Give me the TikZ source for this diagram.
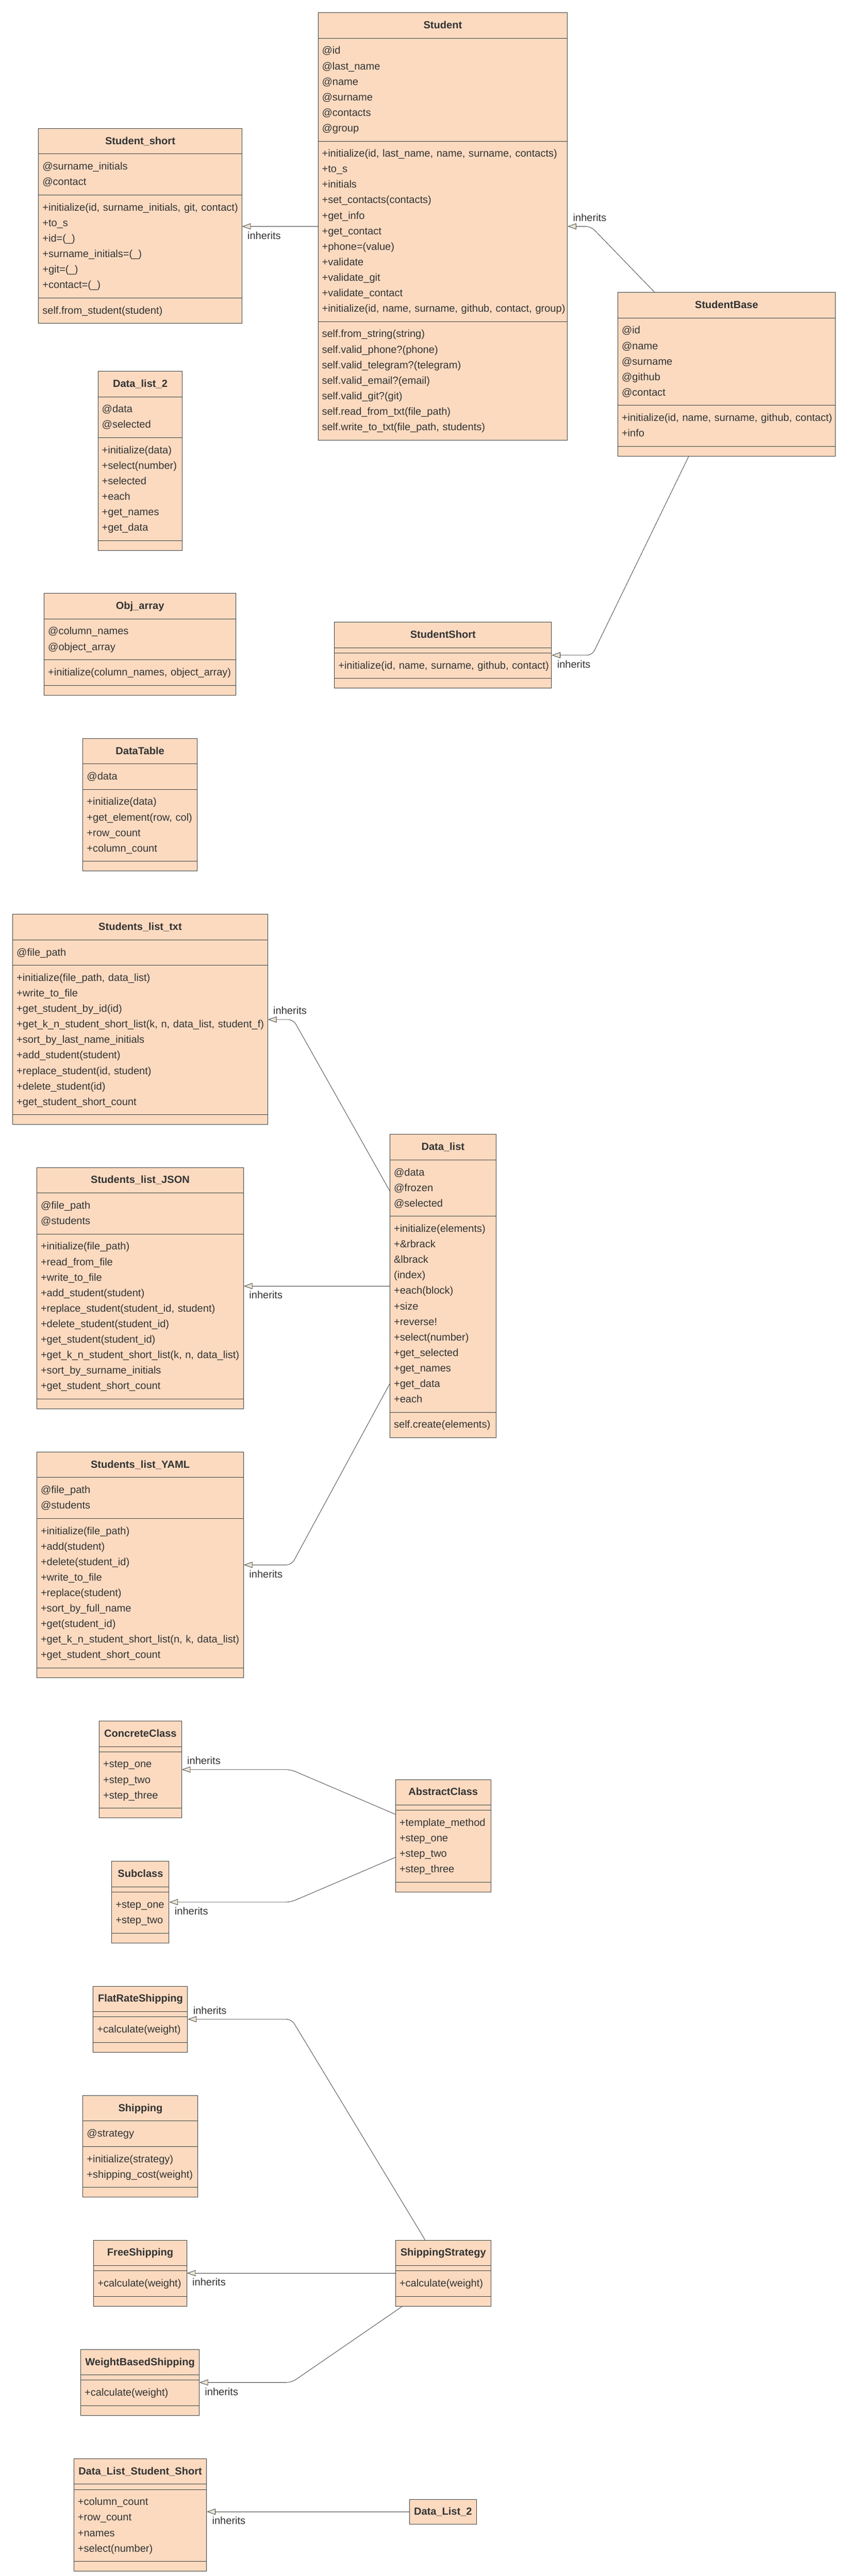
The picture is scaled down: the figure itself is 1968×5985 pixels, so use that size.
\documentclass[tikz,border=0pt]{standalone}
\usepackage{fontspec}
\setmainfont{Liberation Sans}
\usepackage{tikz}
\usetikzlibrary{arrows.meta,shapes.multipart}

\definecolor{boxc}{HTML}{FCDAC0}
\definecolor{linec}{HTML}{3C3C3C}
\definecolor{textc}{HTML}{333333}
\definecolor{tipc}{HTML}{EAE4D2}

%one compartment, rows 18pt apart, no wrapping
\newcommand{\rows}[1]{\begin{tabular}[t]{@{}l@{}}\rule{0pt}{15.35pt}#1\rule[-8.15pt]{0pt}{0pt}\end{tabular}}
\newcommand{\cname}[1]{\hfill\rows{\textbf{#1}}\hfill\null}

\begin{document}
\begin{tikzpicture}[
x=0.5pt,y=-0.5pt,
cls/.style={rectangle split, rectangle split parts=4, draw=linec, fill=boxc, line width=0.6pt, anchor=north west, inner xsep=4.5pt, inner ysep=2.75pt, text=textc, font=\fontsize{12}{18}\selectfont, rectangle split empty part height=0pt, rectangle split empty part depth=0pt},
clsone/.style={rectangle, draw=linec, fill=boxc, line width=0.6pt, anchor=north west, inner sep=0pt, text=textc, font=\fontsize{12}{18}\selectfont\bfseries},
inh/.style={draw=linec, line width=0.5pt, -{Triangle[length=10pt,width=7pt,fill=tipc]}, rounded corners=6pt},
lup/.style={at end, anchor=base west, shift={(12,-12)}, inner sep=0pt, text=textc, font=\fontsize{12}{14}\selectfont},
ldown/.style={at end, anchor=base west, shift={(12,29.5)}, inner sep=0pt, text=textc, font=\fontsize{12}{14}\selectfont},
]
\path[use as bounding box, fill=white] (0,0) rectangle (1968,5985);

%students
\node(student)[cls, text width=280.5pt] at (738,29){\cname{Student}
\nodepart{two}\rows{@id\\@last\_name\\@name\\@surname\\@contacts\\@group}
\nodepart{three}\rows{+initialize(id, last\_name, name, surname, contacts)\\+to\_s\\+initials\\+set\_contacts(contacts)\\+get\_info\\+get\_contact\\+phone=(value)\\+validate\\+validate\_git\\+validate\_contact\\+initialize(id, name, surname, github, contact, group)}
\nodepart{four}\rows{self.from\_string(string)\\self.valid\_phone?(phone)\\self.valid\_telegram?(telegram)\\self.valid\_email?(email)\\self.valid\_git?(git)\\self.read\_from\_txt(file\_path)\\self.write\_to\_txt(file\_path, students)}};
\node(sshort)[cls, text width=227pt] at (89,298){\cname{Student\_short}
\nodepart{two}\rows{@surname\_initials\\@contact}
\nodepart{three}\rows{+initialize(id, surname\_initials, git, contact)\\+to\_s\\+id=(\_)\\+surname\_initials=(\_)\\+git=(\_)\\+contact=(\_)}
\nodepart{four}\rows{self.from\_student(student)}};
\node(sbase)[cls, text width=243.5pt] at (1434,679){\cname{StudentBase}
\nodepart{two}\rows{@id\\@name\\@surname\\@github\\@contact}
\nodepart{three}\rows{+initialize(id, name, surname, github, contact)\\+info}};
\node(sshort2)[cls, text width=243pt] at (776,1445){\cname{StudentShort}
\nodepart{two}
\nodepart{three}\rows{+initialize(id, name, surname, github, contact)}};

%tables
\node(dlist2)[cls, text width=89pt] at (227,862){\cname{Data\_list\_2}
\nodepart{two}\rows{@data\\@selected}
\nodepart{three}\rows{+initialize(data)\\+select(number)\\+selected\\+each\\+get\_names\\+get\_data}};
\node(objarr)[cls, text width=213.5pt] at (102,1378){\cname{Obj\_array}
\nodepart{two}\rows{@column\_names\\@object\_array}
\nodepart{three}\rows{+initialize(column\_names, object\_array)}};
\node(dtable)[cls, text width=123.5pt] at (192,1715){\cname{DataTable}
\nodepart{two}\rows{@data}
\nodepart{three}\rows{+initialize(data)\\+get\_element(row, col)\\+row\_count\\+column\_count}};

%students lists
\node(txt)[cls, text width=287pt] at (29,2124){\cname{Students\_list\_txt}
\nodepart{two}\rows{@file\_path}
\nodepart{three}\rows{+initialize(file\_path, data\_list)\\+write\_to\_file\\+get\_student\_by\_id(id)\\+get\_k\_n\_student\_short\_list(k, n, data\_list, student\_f)\\+sort\_by\_last\_name\_initials\\+add\_student(student)\\+replace\_student(id, student)\\+delete\_student(id)\\+get\_student\_short\_count}};
\node(dlist)[cls, text width=114pt] at (905,2635){\cname{Data\_list}
\nodepart{two}\rows{@data\\@frozen\\@selected}
\nodepart{three}\rows{+initialize(elements)\\+\&rbrack\\\&lbrack\\(index)\\+each(block)\\+size\\+reverse!\\+select(number)\\+get\_selected\\+get\_names\\+get\_data\\+each}
\nodepart{four}\rows{self.create(elements)}};
\node(json)[cls, text width=231pt] at (85,2712){\cname{Students\_list\_JSON}
\nodepart{two}\rows{@file\_path\\@students}
\nodepart{three}\rows{+initialize(file\_path)\\+read\_from\_file\\+write\_to\_file\\+add\_student(student)\\+replace\_student(student\_id, student)\\+delete\_student(student\_id)\\+get\_student(student\_id)\\+get\_k\_n\_student\_short\_list(k, n, data\_list)\\+sort\_by\_surname\_initials\\+get\_student\_short\_count}};
\node(yaml)[cls, text width=231pt] at (85,3373){\cname{Students\_list\_YAML}
\nodepart{two}\rows{@file\_path\\@students}
\nodepart{three}\rows{+initialize(file\_path)\\+add(student)\\+delete(student\_id)\\+write\_to\_file\\+replace(student)\\+sort\_by\_full\_name\\+get(student\_id)\\+get\_k\_n\_student\_short\_list(n, k, data\_list)\\+get\_student\_short\_count}};

%template method
\node(concrete)[cls, text width=86.5pt] at (230,3998){\cname{ConcreteClass}
\nodepart{two}
\nodepart{three}\rows{+step\_one\\+step\_two\\+step\_three}};
\node(abstract)[cls, text width=101.5pt] at (918,4134){\cname{AbstractClass}
\nodepart{two}
\nodepart{three}\rows{+template\_method\\+step\_one\\+step\_two\\+step\_three}};
\node(subcl)[cls, text width=57.5pt] at (259,4324){\cname{Subclass}
\nodepart{two}
\nodepart{three}\rows{+step\_one\\+step\_two}};

%shipping
\node(flat)[cls, text width=100.5pt] at (216,4614){\cname{FlatRateShipping}
\nodepart{two}
\nodepart{three}\rows{+calculate(weight)}};
\node(shipping)[cls, text width=124.5pt] at (192,4868){\cname{Shipping}
\nodepart{two}\rows{@strategy}
\nodepart{three}\rows{+initialize(strategy)\\+shipping\_cost(weight)}};
\node(free)[cls, text width=99pt] at (217,5204){\cname{FreeShipping}
\nodepart{two}
\nodepart{three}\rows{+calculate(weight)}};
\node(sstrat)[cls, text width=101.5pt] at (918,5204){\cname{ShippingStrategy}
\nodepart{two}
\nodepart{three}\rows{+calculate(weight)}};
\node(weight)[cls, text width=128.5pt] at (187,5458){\cname{WeightBasedShipping}
\nodepart{two}
\nodepart{three}\rows{+calculate(weight)}};

%data list of short students
\node(dlss)[cls, text width=145pt] at (171,5712){\cname{Data\_List\_Student\_Short}
\nodepart{two}
\nodepart{three}\rows{+column\_count\\+row\_count\\+names\\+select(number)}};
\node(dl2)[clsone, minimum width=78pt, minimum height=29pt] at (950,5806){Data\_List\_2};

%inheritance
\draw[inh] ([shift={(86,0)}]sbase.north west) -- (1372,0 |- student.east) -- (student.east) node[lup] (i1) {inherits};
\draw[inh] (student.west) -- (student.west -| sshort.east) node[ldown] (i2) {inherits};
\draw[inh] ([shift={(165,0)}]sbase.south west) -- (1375,0 |- sshort2.east) -- (sshort2.east) node[ldown] (i3) {inherits};
\draw[inh] ([shift={(0,-221)}]dlist.west) -- (681,0 |- txt.east) -- (txt.east) node[lup] (i4) {inherits};
\draw[inh] (dlist.west) -- (dlist.west -| json.east) node[ldown] (i5) {inherits};
\draw[inh] ([shift={(0,227)}]dlist.west) -- (677,0 |- yaml.east) -- (yaml.east) node[ldown] (i6) {inherits};
\draw[inh] ([shift={(0,-50)}]abstract.west) -- (675,0 |- concrete.east) -- (concrete.east) node[lup] (i7) {inherits};
\draw[inh] ([shift={(0,50)}]abstract.west) -- (675,0 |- subcl.east) -- (subcl.east) node[ldown] (i8) {inherits};
\draw[inh] ([shift={(69,0)}]sstrat.north west) -- (677,0 |- flat.east) -- (flat.east) node[lup] (i9) {inherits};
\draw[inh] (sstrat.west) -- (sstrat.west -| free.east) node[ldown] (i10) {inherits};
\draw[inh] ([shift={(16,0)}]sstrat.south west) -- (677,0 |- weight.east) -- (weight.east) node[ldown] (i11) {inherits};
\draw[inh] (dl2.west) -- (dl2.west -| dlss.east) node[ldown] (i12) {inherits};

\end{tikzpicture}
\end{document}
